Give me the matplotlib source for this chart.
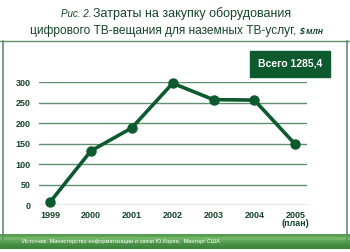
import matplotlib.pyplot as plt
import numpy as np
from matplotlib.colors import LinearSegmentedColormap

years = ['1999', '2000', '2001', '2002', '2003', '2004', '2005\n(план)']
spend = [7, 132, 188, 297, 257, 256, 148]
yticks = [0, 50, 100, 150, 200, 250, 300]
total_label = 'Всего 1285,4'
source = 'Источник: Министерство информатизации и связи Ю.Кореи,  Минторг США'

dark = '#0d5a2e'
grid_c = '#5f8f70'
txt_c = '#16452a'

plt.rcParams['font.family'] = ['Liberation Sans', 'DejaVu Sans']

fig = plt.figure(figsize=(3.5, 2.52), dpi=100)

# title, two lines
fig.text(0.262, 0.945, 'Рис. 2.', ha='right', va='center', fontsize=7,
         style='italic', color=txt_c)
fig.text(0.267, 0.945, 'Затраты на закупку оборудования', ha='left', va='center',
         fontsize=9, color=txt_c)
fig.text(0.855, 0.877, 'цифрового ТВ-вещания для наземных ТВ-услуг, ', ha='right',
         va='center', fontsize=8.6, color=txt_c)
fig.text(0.855, 0.877, '$ млн', ha='left', va='center', fontsize=6.2,
         style='italic', weight='bold', color=txt_c)

# frame lines
fig.add_artist(plt.Line2D([0.0, 1.0], [0.837, 0.837], color=grid_c, lw=1))
fig.add_artist(plt.Line2D([0.008, 0.008], [0.04, 0.837], color=grid_c, lw=1.2))
fig.add_artist(plt.Line2D([0.992, 0.992], [0.04, 0.837], color=grid_c, lw=1.2))

# bottom source bar with gradient
bax = fig.add_axes([0.0, 0.012, 1.0, 0.058])
grad = np.array([0.55, 0.85, 0.6, 0.4, 0.3]).reshape(-1, 1)
cm_bar = LinearSegmentedColormap.from_list('g', ['#1f6a22', '#86c878'])
bax.imshow(grad, aspect='auto', cmap=cm_bar, vmin=0, vmax=1, extent=[0, 1, 0, 1])
bax.set_axis_off()
bax.text(0.063, 0.5, source, ha='left', va='center', fontsize=4.1, color='white',
         transform=bax.transAxes)

# main plot
ax = fig.add_axes([0.1114, 0.1865, 0.766, 0.488])
x = np.arange(len(years))
ax.plot(x, spend, color=dark, lw=2.6, marker='o', ms=6.5, clip_on=False, zorder=3)
ax.set_xlim(-0.27, 6.29)
ax.set_ylim(0, 300)
ax.set_yticks(yticks)
ax.set_yticklabels([str(v) for v in yticks], fontsize=6.5, weight='bold', color=txt_c)
ax.set_xticks(x)
ax.set_xticklabels(years, fontsize=6.5, weight='bold', color=txt_c, linespacing=0.9,
                   va='top')
ax.tick_params(length=0, pad=4)
ax.tick_params(axis='y', pad=6)
for v in yticks:
    ax.axhline(v, color=grid_c, lw=1, zorder=1)
for s in ax.spines.values():
    s.set_visible(False)
ax.patch.set_alpha(0)

# total box
fig.text(0.829, 0.747, total_label, ha='center', va='center', fontsize=7.5,
         weight='bold', color='white',
         bbox=dict(boxstyle='square,pad=0.75', fc=dark, ec=dark))

fig.savefig('out.png', dpi=100)
